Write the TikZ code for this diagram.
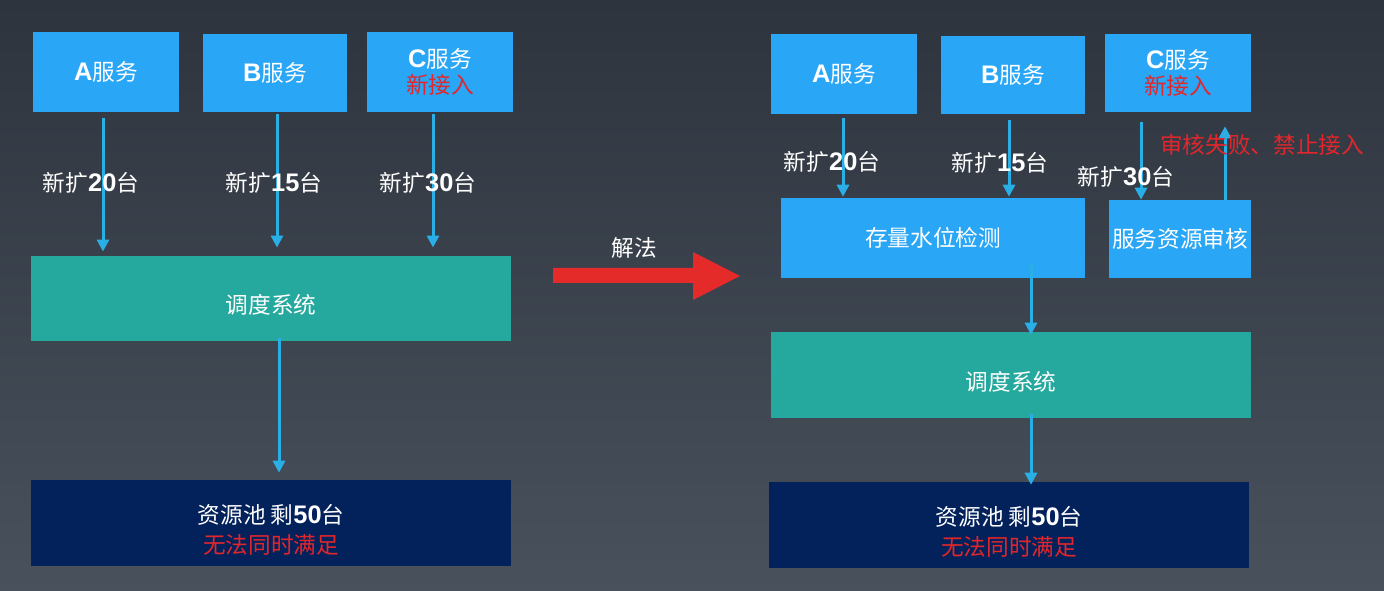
\documentclass[tikz,border=0pt]{standalone}
\usepackage{fontspec}
\setmainfont{Noto Sans CJK SC}
\newfontfamily\lat{Liberation Sans}[Scale=1.12]
\usetikzlibrary{arrows.meta}

\definecolor{bgtop}{HTML}{2E343E}
\definecolor{bgbot}{HTML}{48515C}
\definecolor{svcblue}{HTML}{2AA6F7}
\definecolor{schedteal}{HTML}{25A89D}
\definecolor{poolnavy}{HTML}{03225B}
\definecolor{flowcyan}{HTML}{2AAEE6}
\definecolor{failred}{HTML}{E2262B}
\definecolor{arrowred}{HTML}{E52A2A}

\newcommand{\bnum}[1]{{\lat\bfseries #1}}
\newcommand{\padtop}{\rule{0pt}{24pt}}

\begin{document}
\begin{tikzpicture}[x=0.75pt,y=0.75pt,yscale=-1,xscale=1,
  every node/.style={font=\fontsize{17pt}{20pt}\selectfont, text=white},
  svc/.style={fill=svcblue, minimum width=109.5pt, minimum height=60pt, align=center, inner sep=0pt},
  sched/.style={fill=schedteal, minimum width=360pt, minimum height=64pt},
  pool/.style={fill=poolnavy, minimum width=360pt, minimum height=64.5pt, align=center},
  flow/.style={draw=flowcyan, line width=2.25pt, -{Triangle[length=9pt,width=9pt]}},
  tag/.style={inner sep=0.75pt}
]
%set diagram left start at 0, and has height of 591
\shade[top color=bgtop, bottom color=bgbot] (0,0) rectangle (1384,591);
\useasboundingbox (0,0) rectangle (1384,591);

%Left: before
\node[svc] (la) at (106,72) {\bnum{A}服务};
\node[svc, minimum width=108pt, minimum height=58.5pt] (lb) at (275,73) {\bnum{B}服务};
\node[svc] (lc) at (440,72) {\bnum{C}服务\\\textcolor{failred}{新接入}};
\node[sched] (lsched) at (271,298.5) {\padtop 调度系统};
\node[pool] (lpool) at (271,523) {\padtop 资源池 剩\bnum{50}台\\[2.5pt]\textcolor{failred}{无法同时满足}};

\draw[flow, shorten <=4.5pt, shorten >=3pt] ([xshift=-2.25pt]la.south) -- ([xshift=-2.25pt]la.south |- lsched.north);
\draw[flow, shorten <=1.5pt, shorten >=6pt] ([xshift=1.5pt]lb.south) -- ([xshift=1.5pt]lb.south |- lsched.north);
\draw[flow, shorten <=1.5pt, shorten >=6pt] ([xshift=-5.25pt]lc.south) -- ([xshift=-5.25pt]lc.south |- lsched.north);
\draw[flow, shorten <=-2.25pt, shorten >=5.25pt] ([xshift=6pt]lsched.south) -- ([xshift=6pt]lsched.south |- lpool.north);

% Text Node
\node[tag] (lan) at (91,183) {新扩\bnum{20}台};
\node[tag] (lbn) at (274,183) {新扩\bnum{15}台};
\node[tag] (lcn) at (428,183) {新扩\bnum{30}台};

%Middle
\fill[arrowred] (553,268) -- (693,268) -- (693,252) -- (740,276) -- (693,300) -- (693,283) -- (553,283) -- cycle;
\node[tag] (solve) at (634,248) {解法};

%Right: after
\node[svc] (ra) at (844,74) {\bnum{A}服务};
\node[svc, minimum width=108pt, minimum height=58.5pt] (rb) at (1013,75) {\bnum{B}服务};
\node[svc, minimum height=58.5pt] (rc) at (1178,73) {\bnum{C}服务\\\textcolor{failred}{新接入}};
\node[svc, minimum width=228pt] (rcheck) at (933,238) {存量水位检测};
\node[svc, minimum width=106.5pt, minimum height=58.5pt] (raudit) at (1180,239) {服务资源审核};
\node[sched, minimum height=64.5pt] (rsched) at (1011,375) {\padtop 调度系统};
\node[pool] (rpool) at (1009,525) {\padtop 资源池 剩\bnum{50}台\\[2.5pt]\textcolor{failred}{无法同时满足}};

\draw[flow, shorten <=3pt, shorten >=0.75pt] ([xshift=-0.75pt]ra.south) -- ([xshift=-0.75pt]ra.south |- rcheck.north);
\draw[flow, shorten <=4.5pt, shorten >=0.75pt] ([xshift=-3pt]rb.south) -- ([xshift=-3pt]rb.south |- rcheck.north);
\draw[flow, shorten <=7.5pt] ([xshift=-27.75pt]rc.south) -- ([xshift=-27.75pt]rc.south |- raudit.north);
\draw[flow, shorten >=10.5pt] ([xshift=33.75pt]raudit.north) -- ([xshift=33.75pt]raudit.north |- rc.south);
\draw[flow, shorten <=-10.5pt, shorten >=-2.25pt] ([xshift=73.5pt]rcheck.south) -- ([xshift=73.5pt]rcheck.south |- rsched.north);
\draw[flow, shorten <=-3pt, shorten >=-2.25pt] ([xshift=15pt]rsched.south) -- ([xshift=15pt]rsched.south |- rpool.north);

% Text Node
\node[tag] (ran) at (832,162) {新扩\bnum{20}台};
\node[tag] (rbn) at (1000,163) {新扩\bnum{15}台};
\node[tag] (rcn) at (1126,177) {新扩\bnum{30}台};
\node[tag, text=failred] (reject) at (1262,145) {审核失败、禁止接入};

\end{tikzpicture}
\end{document}
